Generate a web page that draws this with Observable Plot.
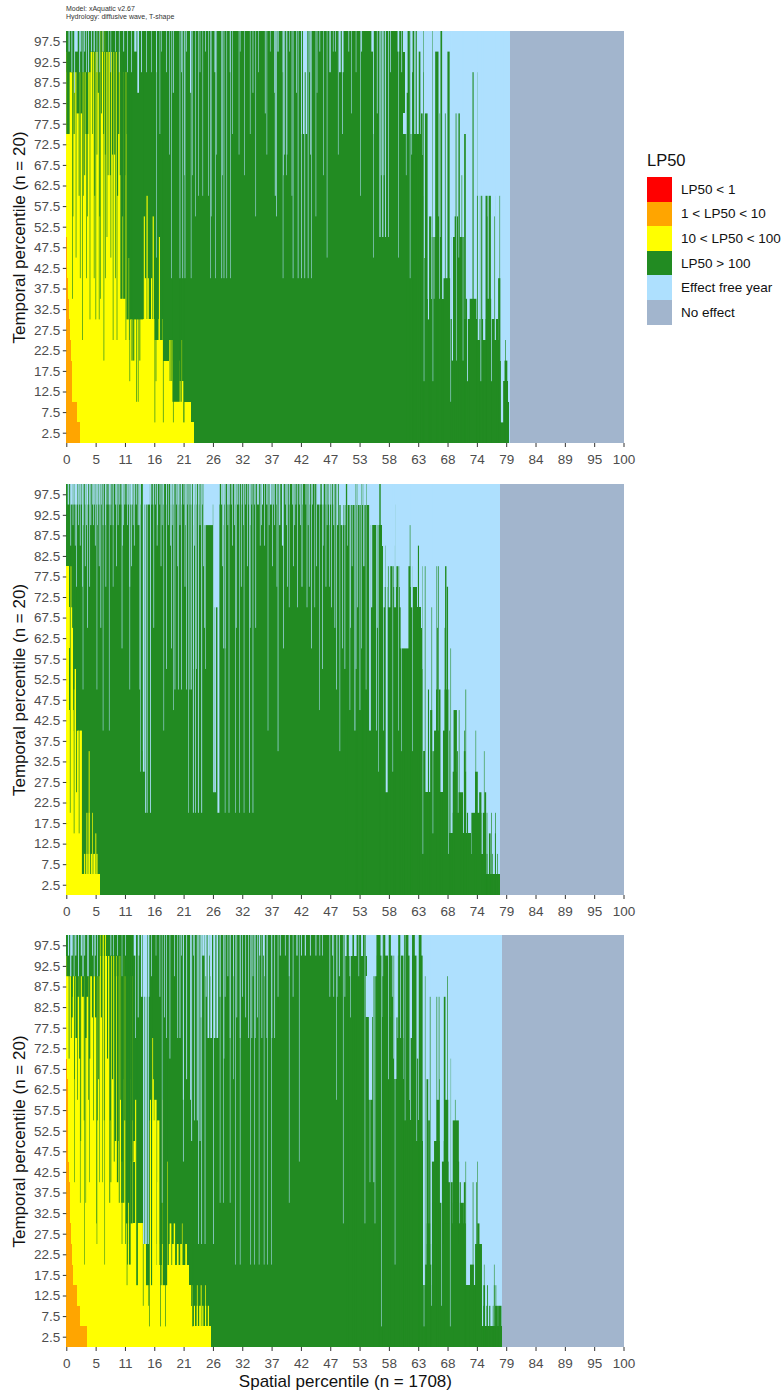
<!DOCTYPE html>
<html><head><meta charset="utf-8">
<script src="https://cdn.jsdelivr.net/npm/d3@7"></script>
<script src="https://cdn.jsdelivr.net/npm/@observablehq/plot@0.6"></script>
<style>
body{margin:0;background:#fff;font-family:"Liberation Sans",Arial,sans-serif;}
#page{position:relative;width:782px;height:1393px;overflow:hidden;}
#page svg{display:block;position:absolute;left:0;background:transparent;font-family:"Liberation Sans",Arial,sans-serif;}
#note{position:absolute;left:66px;top:5px;font-size:7px;line-height:8px;color:#333;}
#legend{position:absolute;left:647px;top:150px;}
#legend .t{font-size:16.5px;height:27px;line-height:20px;color:#111;}
#legend .r{display:flex;align-items:center;height:24.6px;font-size:13.5px;color:#111;white-space:nowrap;}
#legend .k{width:24.5px;height:24.6px;margin-right:9.5px;flex:none;}
</style></head><body><div id="page">
<div id="note">Model: xAquatic v2.67<br>Hydrology: diffusive wave, T-shape</div>
<div id="legend"></div>
</div>
<script>
const categories=["LP50 < 1","1 < LP50 < 10","10 < LP50 < 100","LP50 > 100","Effect free year","No effect"];
const colors=["#ff0000","#ffa500","#ffff00","#228b22","#aee0fe","#a2b5cd"];
const temporalLabels=[2.5,7.5,12.5,17.5,22.5,27.5,32.5,37.5,42.5,47.5,52.5,57.5,62.5,67.5,72.5,77.5,82.5,87.5,92.5,97.5];
const spatialLabels=[0,5,11,16,21,26,32,37,42,47,53,58,63,68,74,79,84,89,95,100];

// Per temporal row (bottom to top): spatial percentile where each class ends.
const p1Orange=[2.4,2.0,1.1,1.1,.8,.6,.5,.3,.2,.1,0,0,0,0,0,0,0,0,0,0];
const p1Yellow=[23.0,22.3,21.1,18.4,17.3,17.3,11.7,11.7,11.7,11.1,11.1,11.1,11.1,11.1,11.1,11.1,11.1,11.1,9.7,0];
const p1Green=[79.4,79.4,79.2,78.0,77.9,77.5,68.9,64.4,64.4,64.2,64.2,64.2,64.0,64.0,63.8,60.5,60.8,60.8,60.8,60.5];
const p1EffectEnd=79.6;
// Narrow columns: [spatial percentile, row, column width]
const p1GreenUp=[[61.5,19,.5],[62.3,19,.3],[62.8,19,.2],[63.4,18,.3],[61.3,16,.5],[62.2,17,.3],[63.8,15,.3],[65,19,.12],[64.1,19,.12],[67.3,19,.3],[64.1,17,.15],[65.7,19,.12],[66.5,18,.6],[68.6,18,.4],[64.6,15,.5],[67,15,.15],[68,15,.15],[70,15,.25],[70.5,15,.25],[71.55,14,.3],[71,12,.12],[73,17,.2],[73.9,17,.12],[73.9,11,.4],[74.5,11,.3],[75.4,11,.4],[76,11,.4],[77,11,.1],[77.8,11,.1],[76.9,10,.2],[75.5,10,.15],[65.3,10,.4],[66.8,10,.3],[70,10,.6],[66,9,.8],[67,9,.5],[69.7,9,1],[71,9,.8],[65.3,7,.2],[68.3,7,1.2],[77.7,7,.4],[75.9,6,.8],[73,6,1.2],[74,5,.3],[76.8,5,.9],[71.2,9,.3],[70.5,8,.5],[74.8,4,.3],[78.9,3,.5],[69.5,6,.3],[70.2,6,.3],[71,6,.3],[71.8,6,.3],[78.8,4,.12]];
const p1YellowUp=[[14,10,.2],[14.5,11,.2],[15.6,10,.2],[16.8,9,.4],[12.2,5,.2],[12.6,5,.2],[13.2,5,.2],[13.5,5,.2],[14.2,7,.3],[14.7,7,.2],[15.3,7,.2],[18.6,4,.2],[19,4,.2],[19.4,4,.2],[20.7,4,.15],[19.2,3,.2],[20.1,3,.4],[5.8,19,.2],[6.2,19,.2],[6.6,19,.2],[7,19,.2]];
const p1GreenDown=[[2.2,18,4.3],[0.3,15,.6],[0.9,18,.3],[1.4,15,.2],[1.75,9,.12],[2.1,16,.5],[2.7,16,.3],[2.9,5,.12],[3.05,12,.12],[3.7,15,.5],[3.8,11,.12],[4.25,6,.12],[5.3,6,.12],[5.75,17,.2],[5.9,6,.12],[6.3,16,.15],[6.75,4,.12],[7,14,.15],[7.5,13,.15],[7.9,13,.2],[8.3,14,.2],[8.4,5,.12],[8.7,14,.2],[9.1,5,.12],[9.2,12,.2],[9.9,7,.4],[10.4,7,.4],[11,6,.4],[11.5,6,.3],[10.7,5,.12],[11.3,5,.12],[11.8,4,.2],[12.1,4,.2],[11.4,3,.12],[12.6,2,.12],[12.9,2,.12],[13.2,4,.15],[12.8,6,2],[15.9,1,.12],[16.1,3,.12],[16.2,5,.7],[17.05,5,.5],[17.4,1,.12],[19.2,1,.12],[21.1,1,.2],[19.7,2,1.3],[20.6,2,.2],[1.2,11,.12],[2.3,12,.15],[3.3,13,.15],[4.7,15,.12],[5.1,12,.15],[5.5,14,.12],[6,11,.12],[6.7,15,.15],[7.3,10,.12],[9.4,15,.2],[9.7,13,.2],[10.1,11,.2],[10.5,13,.2],[10.9,15,.15],[8,9,.12],[6.1,7,.12],[3.6,8,.12],[2.5,8,.12],[1.1,7,.12],[5,8,.12],[7,8,.12],[8.8,8,.12]];
const p1BlueDown=[[.5,19,.2],[1.8,19,.5],[2.6,19,.2],[3.3,19,.15],[4,18,.15],[5,19,.2],[6,18,.12],[7.6,19,.1],[12.4,19,.4],[12.9,17,.3],[13.5,18,.15],[19.2,17,.15],[22.3,17,.2],[22.6,13,.1],[23.7,12,.1],[24.5,12,.1],[25.5,12,.1],[26.7,18,.2],[28,13,.1],[31,14,.1],[33,15,.1],[34.5,18,.1],[36.6,19,.1],[37.5,12,.15],[38,19,.2],[39,13,.1],[39.5,13,.1],[42.2,15,.12],[42.6,15,.25],[43.1,15,.25],[42.8,18,.6],[43.8,14,.12],[45,17,.1],[47.3,18,.15],[16.2,9,.1],[18.9,8,.1],[20.4,8,.12],[20.9,8,.12],[21.3,8,.12],[22.4,8,.1],[25.9,8,.1],[26.8,8,.1],[27.9,8,.12],[28.3,8,.12],[28.8,8,.1],[29.5,8,.1],[38.9,8,.1],[40.7,8,.12],[41.6,8,.12],[42.2,8,.12],[42.8,8,.12],[43.4,8,.12],[44,8,.1],[46.8,9,.1],[47.4,18,.1],[49.1,18,.3],[49.6,18,.3],[49.6,15,.12],[53,19,.15],[54.9,19,.3],[55.1,15,.1],[55.1,9,.1],[56.3,10,.2],[56.8,10,.2],[57.3,10,.15],[57.8,10,.12],[59.6,19,.3],[59.6,9,.1],[61.7,8,.1],[61,13,.1],[62,14,.1],[64.2,3,.1],[65.8,3,.1],[69,2,.1],[69.3,4,.2],[70,4,.1],[71.2,4,.1],[72,3,.15],[74.4,3,.12],[76.3,3,.12],[74,5,.3],[75,5,.4],[77,5,.2],[65,6,.2],[66,7,.1],[67,7,.1],[67.8,8,.15],[78.2,1,.4],[14.4,18,.12],[15.3,18,.1],[16.2,18,.12],[17.1,19,.1],[18,18,.12],[20.7,18,.12],[21.6,19,.12],[24,18,.1],[25,19,.12],[29.4,18,.12],[31.2,19,.1],[33.5,17,.12],[35.7,16,.12],[37.4,17,.12],[38.9,18,.12],[40.1,19,.1],[41.3,17,.12],[43.7,18,.12],[45.5,19,.12],[47.9,19,.1],[37.7,11,.12],[39.2,14,.12],[39.6,14,.12],[48.3,19,.12],[50.7,19,.12],[52,18,.1],[55.8,16,.12],[56.5,13,.1],[57,13,.1],[58.2,18,.12],[60.2,18,.12],[27,14,.1],[23.2,11,.1],[26,11,.1],[16.8,15,.1],[18.5,14,.1],[21.2,13,.1],[29.8,15,.1],[32,13,.1],[34,11,.1],[36,14,.1],[40.5,12,.1],[44.8,11,.1],[46.2,13,.1],[48.8,14,.1],[51.2,16,.1],[52.8,12,.1],[1,18,.15],[1.5,17,.15],[2.4,18,.15],[3,18,.15],[3.6,18,.12],[4.5,19,.15],[5.5,18,.12],[6.6,19,.15],[8,18,.1],[8.8,19,.12],[9.5,18,.12],[10.3,19,.15],[11,18,.12],[11.7,18,.12]];

const p2Orange=[0,0,0,0,0,0,0,0,0,0,0,0,0,0,0,0,0,0,0,0];
const p2Yellow=[6.0,2.6,2.6,2.5,2.2,1.7,1.7,1.6,.65,.4,.4,.4,.6,.6,.5,.4,0,0,0,0];
const p2Green=[77.8,74.7,72.7,68.7,68.0,64.4,64.4,64.0,64.0,64.0,64.0,63.8,63.8,63.6,63.0,56.9,56.9,56.6,54.5,49.0];
const p2EffectEnd=77.8;
const p2GreenUp=[[50.3,19,.3],[51.9,19,.15],[52.2,19,.2],[53,19,.2],[53.3,19,.12],[53.9,19,.12],[56.3,19,.25],[59.1,18,.12],[60,18,.12],[60.6,17,.12],[61.7,17,.12],[58,15,.6],[59,16,.12],[57.4,16,.2],[58.5,15,.5],[59.5,15,.5],[60.5,15,.5],[61.5,15,.5],[62,15,.3],[63.2,16,.2],[63.9,15,.1],[64.4,15,.12],[66.5,15,.12],[66.8,15,.12],[68.1,15,.25],[65.6,13,.12],[68.4,14,.25],[66.6,12,.15],[68,12,.2],[69,11,.1],[65,9,.2],[66.5,9,.3],[67,9,.3],[68.3,9,.8],[70.5,8,.12],[71.7,9,.12],[69.8,8,.6],[65.5,8,.4],[66.5,7,1],[68.2,7,1.2],[69.7,7,.2],[71.5,7,.15],[73.5,7,.1],[73.6,5,.5],[75,6,.1],[66,6,.8],[70.2,6,.15],[71.5,6,.3],[69.7,5,.7],[71.6,5,.3],[70.8,4,.8],[74.3,4,.4],[75.2,4,.3],[73.6,3,1.8],[75.5,3,.12],[76.3,3,.12],[77,3,.12],[75,3,.5],[70.2,3,1],[71.5,3,.15],[69.5,3,.3],[70.8,3,.15],[72,3,.2],[73.4,2,.3],[75.2,2,.15],[76,2,.3],[77,2,.15],[75,1,.12],[75.5,1,.15],[76,1,.12],[76.5,1,.12],[77,1,.12],[77.4,1,.12]];
const p2YellowUp=[[3.3,1,.2],[3.7,1,.2],[4.1,1,.2],[4.5,1,.2],[5,1,.3],[5.5,1,.2],[3.7,3,.15],[4.1,3,.15],[4.7,3,.12],[5.3,2,.15],[2.4,7,.5],[2,7,.5],[2.7,7,.2],[1.5,9,.3],[1.2,8,.3],[1.6,10,.3],[.9,10,.3],[1.1,12,.2],[.9,13,.3],[.8,15,.2],[2.5,5,.2],[4.1,6,.15]];
const p2GreenDown=[[.7,4,.12],[1.4,3,.12],[1.85,5,.15],[2.3,3,.12],[1.9,8,.2]];
const p2BlueDown=[[.36,19,.2],[1,19,.3],[1.7,19,.5],[2.45,19,.2],[3,18,.15],[3.8,19,.2],[4.4,18,.15],[5,19,.2],[6,19,.15],[6.6,18,.12],[7.7,19,.2],[8.4,18,.12],[9.6,19,.15],[10.5,19,.15],[11.7,19,.4],[12.9,18,.15],[14.4,19,1.2],[15.6,19,.15],[17.4,19,.15],[18.3,18,.12],[19.2,19,.15],[20.7,19,.15],[22.5,19,.15],[23.4,19,.12],[24,18,.15],[25.9,19,2],[25.5,18,1.6],[26.9,14,.8],[27.9,19,.2],[29.2,19,.2],[31,19,.12],[34.4,19,.3],[35.2,19,.2],[36,19,.2],[36.7,19,.3],[38.3,18,.2],[38.8,17,.2],[42.3,15,.15],[44.6,14,.1],[45.3,19,.6],[46,19,.3],[46.1,17,.1],[47.9,19,.12],[2.9,15,.12],[1.8,15,.12],[4.2,15,.12],[8.4,15,.1],[11.4,15,.12],[11.7,16,.12],[13.9,6,.3],[14.2,4,.15],[14.5,4,.15],[15.1,4,.15],[13.8,7,.1],[13.3,6,.1],[21.9,4,.1],[22.8,4,.15],[23.2,4,.12],[23.7,4,.15],[24.3,4,.15],[27.3,4,.35],[26.7,5,.3],[26.4,5,.15],[28.5,4,.1],[29.2,4,.12],[30.4,4,.1],[31.1,4,.1],[31.9,4,.1],[32.9,4,.12],[33.5,4,.12],[6.6,8,.1],[7.7,8,.1],[17.5,8,.1],[36.2,8,.1],[38,7,.12],[19.2,9,.1],[45.4,9,.1],[19.5,10,.12],[20.1,10,.12],[20.7,10,.12],[21.6,10,.12],[22.2,10,.12],[22.5,10,.12],[5.5,10,.1],[3,10,.1],[11.4,10,.1],[13.2,10,.1],[18,11,.12],[22.8,11,.1],[23.4,11,.1],[25,11,.1],[28.5,12,.1],[33,13,.1],[37.8,15,.1],[40,14,.1],[43.2,14,.12],[47.2,15,.1],[49.1,7,.1],[50.9,9,.1],[51.8,8,.15],[52.7,9,.12],[53.8,10,.1],[54.5,8,.3],[55.7,8,.12],[56.9,8,.12],[56,6,.1],[57.5,5,.35],[58.6,6,.1],[59.6,8,.1],[60.2,7,.1],[62.1,7,.1],[64,2,.1],[65.8,3,.1],[68.6,2,.1],[47.5,19,.15],[48,18,.15],[48.7,18,.2],[49.5,18,.5],[50,18,.15],[50.5,17,.1],[51.3,16,.12],[53.4,16,.2],[54.8,14,.2],[55.8,13,.15],[53,12,.1],[57,14,.3],[58,14,.3],[59,14,.3],[60,14,.3],[61,14,.3],[62,14,.3],[60.7,12,1.4],[.8,17,.12],[1.6,17,.12],[2.5,17,.12],[3.4,16,.12],[5.2,17,.12],[5.9,16,.12],[7.1,15,.12],[9,16,.12],[10.1,17,.12],[12.2,17,.12],[16.3,17,.12],[17,16,.12],[18.7,17,.12],[20,16,.12],[21.3,15,.12],[23,17,.12],[24.6,16,.12],[28,16,.12],[29.8,17,.12],[31.4,15,.12],[32.5,16,.12],[34.8,17,.12],[35.6,17,.12],[37,16,.12],[39.7,15,.12],[40.8,16,.12],[41.5,14,.12],[43.6,15,.12],[44.9,16,.12],[46.6,15,.12],[47.6,14,.12],[48.2,13,.12],[49.6,12,.12],[51,13,.12],[52.3,14,.12],[3.8,13,.12],[6.2,13,.12],[10,12,.12],[15.7,13,.12],[18.9,12,.12],[24.8,13,.12],[28.2,12,.12],[30.5,13,.12],[34,13,.12],[39,12,.12],[44,12,.12],[46,11,.12],[48.5,10,.12],[50,11,.12],[52,11,.12]];
const p2Row19=[.7,1.3,2.1,2.8,3.4,4.1,4.7,5.4,5.7,6.3,7,7.3,8,8.8,9.1,10,10.9,11.2,12.3,12.6,13.3,15.2,16,16.8,18,18.8,19.8,20.2,21.1,21.7,22.2,23,23.8,24.4,27.5,28.4,28.9,29.6,30.3,30.7,31.5,32.2,32.8,33.3,33.8,37.2,37.7,39.3,40,40.6,41.2,41.8,42.4,43,43.7,44.2,46.6,47,47.3];
const p2Row18=[1.2,2.2,3.6,4.9,5.6,7,8,9.3,10.3,11,12,13.1,16.4,17.2,19,20.4,21.4,22.8,28.2,29,30.2,31.8,33,35,36.4,37.4,39.5,41,42,43.4,46.8,47.2];

const p3Orange=[3.65,2.45,2,1.15,1,.8,.7,.7,.4,.3,.3,.3,.3,.15,0,0,0,0,0,0];
const p3Yellow=[26,22.5,22.3,22,14.4,14,12,12,12,12.3,12,12,12,12,12,12,12,12,11.1,0];
const p3Green=[78.2,73.9,73.9,64.1,64.1,64.1,64.1,64.1,64.1,64.1,63.8,61.7,61.4,58.7,58.7,58.7,53.6,53.6,53.9,50];
const p3EffectEnd=78.2;
const p3GreenUp=[[74.3,1,.4],[75,1,.3],[75.5,1,.2],[76,1,.2],[76.6,1,.12],[77.2,1,.5],[77.8,1,.6],[74.3,2,.4],[75,2,.3],[75.6,2,.15],[76.8,2,.12],[77.1,2,.12],[65,3,1.2],[66.3,3,.6],[67.5,3,1],[69.5,3,1.1],[70.7,3,.7],[71.3,3,.4],[56,19,.8],[57,19,.5],[58,19,.5],[59.8,19,.5],[61,19,.8],[62.3,19,.5],[63.5,19,.5],[50.5,19,.4],[51.5,19,.3],[52.5,19,.8],[53.5,19,.5],[55.5,18,.9],[56.5,18,.5],[57.5,18,.7],[58.5,18,.7],[60,18,1],[61.2,18,.8],[62.5,18,.9],[63.7,18,.5],[59.5,15,.5],[60,14,.4],[60.7,14,.3],[61,15,.4],[62,14,.4],[63,13,.3],[63.6,15,.3],[64.4,17,.1],[65.3,16,.12],[66.5,16,.12],[66.9,16,.12],[67.9,16,.3],[68.4,17,.12],[69,13,.1],[64.8,12,.3],[66.7,11,.5],[67,12,.1],[68.2,11,.7],[69.8,11,.1],[69.9,10,1.1],[65.1,10,.3],[71.7,8,.1],[73.8,8,.1],[70.7,7,.2],[71.5,7,.3],[73,7,.12],[73.6,7,.12],[66.5,9,1],[68,9,.5],[66,8,.8],[68,8,1.2],[70,8,1],[68.5,7,1.7],[70,7,.6],[66,6,.6],[67.2,6,.8],[68.5,6,1.5],[70,6,1],[71,6,.7],[73.8,5,.12],[74,5,.3],[73.5,4,.2],[74,4,1.2],[72.8,3,.7],[75,3,.1],[76.8,3,.1],[68.5,5,1.5],[69.8,5,1.5],[71,5,1.4],[65,5,.6],[66.3,5,.4],[67.5,4,.8],[66,4,.8],[65,4,.6],[68.7,4,1.8],[70.5,4,2]];
const p3YellowUp=[[23,1,.2],[23.5,1,.2],[24,1,.3],[24.5,1,.2],[25,1,.2],[25.5,1,.2],[22.6,2,.15],[23.5,2,.12],[24.2,2,.15],[25,2,.12],[15.3,4,.3],[16,4,.3],[16.5,4,.3],[17.3,4,.3],[18,4,.15],[18.6,4,.4],[19.2,4,.4],[20,4,.3],[20.6,4,.3],[21.5,4,.3],[14.9,5,.3],[18.7,5,.3],[19.4,5,.25],[20.8,5,.1],[14.9,8,.2],[15.5,8,.2],[16,8,.2],[16.4,7,.2],[17.5,6,.12],[18.2,8,.1],[15,10,.3],[15.7,10,.4],[16.5,10,.4],[15.5,14,.15],[15.6,12,.2],[17.4,11,.2],[17.9,11,.2],[12.5,11,.3],[15.3,11,.6],[16,11,.4],[6,19,.3],[6.6,19,.3],[7,19,.2]];
const p3GreenDown=[[3,18,6],[9.2,18,.3],[10,18,.4],[10.6,18,.4],[8.8,18,.2],[1,17,.3],[2,17,.5],[3.7,17,.5],[1,16,.3],[.9,15,.15],[1.8,15,.3],[2.4,14,.2],[3,17,.4],[3.5,15,.3],[4.2,14,.2],[4.7,16,.2],[5.3,16,.3],[5.8,13,.15],[6.3,16,.2],[7.4,14,.2],[7.9,11,.2],[8.3,13,.2],[8.8,10,.3],[9.3,10,.2],[10,9,.3],[10.5,11,.2],[10.9,10,.2],[11.4,13,.2],[11.8,11,.2],[12,9,.12],[12.7,3,.3],[14.6,3,.6],[15.3,3,.2],[17,3,.2],[17.7,3,.8],[13.8,2,.12],[14.8,2,.12],[14.9,1,.12],[16.9,1,.12],[17.8,1,.12],[22.7,1,.15],[11,4,.15],[10.6,5,.12],[10,5,.12],[11.4,4,.3],[10.9,6,.4],[5.4,6,.1],[3.3,4,.1],[9.2,8,.25],[10,7,.3],[11,7,.5],[11.7,6,.4],[7.8,7,.15],[6,8,.1],[3.5,7,.1],[.5,14,.15],[1.5,13,.12],[2,12,.12],[3.2,11,.12],[4,12,.12],[4.9,11,.12],[5.6,11,.12],[6.8,11,.12],[8,8,.15],[8.6,9,.15],[9.7,12,.15],[10.2,13,.15],[11,14,.15],[11.6,9,.15],[10.3,7,.2],[9.5,7,.15],[6.5,8,.1],[2.6,10,.12],[2.5,7,.1],[1.5,8,.1],[4.2,8,.1],[11.3,5,.12],[10.9,3,.12],[6.9,4,.1],[5.5,5,.1]];
const p3BlueDown=[[12.3,19,.4],[13,19,.2],[20.7,19,.12],[22.8,19,.12],[24.6,19,.4],[25.6,19,.3],[34.7,19,.2],[35.4,19,.2],[38.4,19,.15],[41.4,19,.2],[42.2,19,.15],[42.9,19,.2],[43.8,19,.15],[44.8,19,.15],[14.1,17,.8],[47.3,17,.12],[25,18,.2],[33.5,18,.12],[12.4,15,.12],[18,15,.12],[20.4,15,.15],[25.5,15,.3],[26,15,.3],[26.6,15,.3],[27.1,15,.3],[29.4,15,.12],[31.2,15,.12],[32.7,15,.12],[33.9,15,.12],[35.1,15,.12],[36,15,.12],[36.9,15,.12],[22.5,10,.15],[24,10,.15],[23,11,.12],[21,12,.15],[23.7,5,.12],[24.3,5,.12],[24.9,5,.12],[26.4,5,.12],[30.4,4,.1],[31.2,4,.1],[33.1,4,.1],[33.8,4,.1],[34.6,4,.1],[35.5,4,.1],[36.1,4,.1],[36.8,4,.1],[27.6,7,.1],[28.2,7,.1],[29.4,7,.1],[40,7,.1],[41.8,9,.1],[21,9,.12],[13.9,5,.25],[14.3,5,.3],[14.7,5,.2],[48.5,12,.1],[49.7,6,.1],[50.9,18,.12],[51.8,19,.2],[53.6,6,.1],[54.5,8,.1],[55.4,6,.1],[55,18,1.3],[54.6,12,.6],[55.2,8,.15],[56.6,1,.1],[59,4,.1],[58.7,14,.1],[60,15,.12],[60.8,11,.1],[62.9,10,.1],[64.2,1,.1],[65.5,2,.1],[67.3,2,.1],[68.9,1,.1],[47.8,19,.15],[49,18,.15],[17.2,7,.1],[30,13,.1],[28.3,14,.1],[12.9,16,.15],[13.5,17,.2],[14.8,17,.2],[15.3,18,.12],[16.1,19,.1],[16.8,17,.12],[17.6,16,.12],[18.6,14,.12],[19.4,18,.12],[20,15,.12],[21.6,13,.15],[22.3,12,.15],[23.5,11,.15],[24.2,16,.15],[25.1,17,.15],[25.9,18,.15],[27.6,17,.12],[28.5,17,.12],[29,18,.12],[30,18,.12],[30.6,16,.12],[31.6,17,.12],[32.2,16,.12],[33.3,15,.12],[34.3,16,.12],[35.6,18,.12],[37.4,15,.12],[38,17,.12],[39.3,19,.12],[40,18,.12],[40.7,17,.12],[45.5,19,.12],[46,19,.12],[48,17,.12],[.4,19,.2],[1,19,.3],[1.7,19,.2],[2.2,18,.15],[2.7,19,.2],[3.3,19,.15],[4,18,.12],[4.7,19,.15],[5.2,19,.15],[8,19,.15],[8.5,19,.12],[9.2,19,.12],[10,18,.1],[10.6,19,.12],[.8,18,.2],[1.4,18,.12],[3,18,.2],[3.8,18,.12],[5,18,.12],[5.6,18,.12],[48.6,17,.1],[50,17,.12],[51,16,.1],[52.5,18,.1],[56.8,18,.12],[57.8,13,.12],[58.5,17,.12],[59.5,15,.1]];

const xTicks=spatialLabels.map((_,i)=>i*100/19);
const rowY=r=>r*5;
const rowsOf=(ends,start,cat)=>ends.map((e,r)=>({x1:start,x2:e,y1:rowY(r),y2:rowY(r+1),cat}));
const up=(list,cat)=>list.map(([x,r,w])=>({x1:x-w/2,x2:x+w/2,y1:0,y2:rowY(r+1),cat}));
const down=(list,cat)=>list.map(([x,r,w])=>({x1:x-w/2,x2:x+w/2,y1:rowY(r),y2:100,cat}));
const rect=(data,crisp)=>Plot.rect(data,{x1:"x1",x2:"x2",y1:"y1",y2:"y2",fill:"cat",shapeRendering:crisp?"crispEdges":"auto",imageFilter:crisp?undefined:"blur(0.3px)"});

function panel(d,top,mt,h,mb,xTitle){
  const svg=Plot.plot({
    width:782,height:mt+h+mb,marginLeft:66.3,marginRight:158.5,marginTop:mt,marginBottom:mb,
    style:{background:"transparent",overflow:"visible"},
    x:{domain:[0,100]},y:{domain:[0,100]},
    color:{domain:categories,range:colors},
    marks:[
      rect([{x1:0,x2:100,y1:0,y2:100,cat:categories[5]}],true),
      rect([{x1:0,x2:d.end,y1:0,y2:100,cat:categories[4]}],true),
      rect(rowsOf(d.green,0,categories[3]),true),
      rect(up(d.greenUp,categories[3])),
      rect(rowsOf(d.yellow,0,categories[2]),true),
      rect(up(d.yellowUp,categories[2])),
      rect(down(d.greenDown,categories[3])),
      rect(down(d.blueDown,categories[4])),
      rect(rowsOf(d.orange,0,categories[1]),true),
      Plot.axisX({ticks:xTicks,tickFormat:v=>spatialLabels[Math.round(v*19/100)],tickSize:4,tickPadding:6.5,fontSize:13.5,color:"#4d4d4d",stroke:"#333",label:null,marginBottom:mb}),
      Plot.axisY({ticks:temporalLabels,tickFormat:v=>v,tickSize:3.5,tickPadding:3,fontSize:13.5,color:"#4d4d4d",stroke:"#333",label:null}),
      Plot.text(["Temporal percentile (n = 20)"],{frameAnchor:"left",dx:-47,rotate:-90,fontSize:17,fill:"#111",textAnchor:"middle"}),
      xTitle?Plot.text(["Spatial percentile (n = 1708)"],{frameAnchor:"bottom",dy:39,fontSize:17,fill:"#111",lineAnchor:"bottom"}):null
    ]
  });
  svg.style.top=top+"px";
  document.getElementById("page").appendChild(svg);
}
const stripes=(xs,r)=>xs.map(x=>[x,r,.12]);
panel({orange:p1Orange,yellow:p1Yellow,green:p1Green,end:p1EffectEnd,greenUp:p1GreenUp,yellowUp:p1YellowUp,greenDown:p1GreenDown,blueDown:p1BlueDown},0,31,412,30,false);
panel({orange:p2Orange,yellow:p2Yellow,green:p2Green,end:p2EffectEnd,greenUp:p2GreenUp,yellowUp:p2YellowUp,greenDown:p2GreenDown,blueDown:[...p2BlueDown,...stripes(p2Row19,19),...stripes(p2Row18,18)]},464,20,411,30,false);
panel({orange:p3Orange,yellow:p3Yellow,green:p3Green,end:p3EffectEnd,greenUp:p3GreenUp,yellowUp:p3YellowUp,greenDown:p3GreenDown,blueDown:p3BlueDown},915,20,412,46,true);

const lg=document.getElementById("legend");
lg.innerHTML='<div class="t">LP50</div>'+categories.map((c,i)=>`<div class="r"><span class="k" style="background:${colors[i]}"></span><span>${c.replace(/</g,"&lt;")}</span></div>`).join("");
</script></body></html>
